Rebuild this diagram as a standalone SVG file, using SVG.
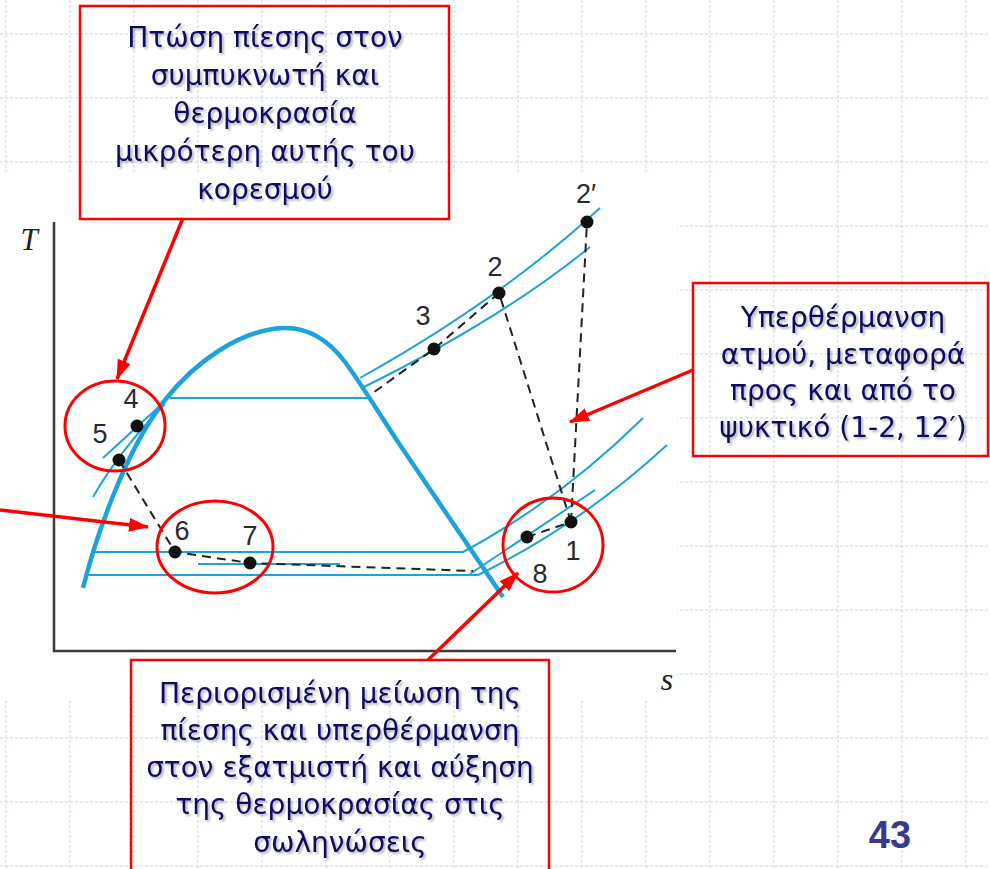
<svg xmlns="http://www.w3.org/2000/svg" width="990" height="869" viewBox="0 0 990 869">
<defs>
<style>
.grid line{stroke:#c5d3f3;stroke-width:1;stroke-dasharray:3 2}
.box{fill:none;stroke:#ff0000;stroke-width:2.5}
.note{font-family:"DejaVu Sans","Liberation Sans",sans-serif;font-size:28px;fill:#0a0a60;text-anchor:middle}
.lbl{font-family:"Liberation Sans",Arial,sans-serif;font-size:27px;fill:#2a2a2a;text-anchor:middle}
.blue{fill:none;stroke:#1da3db;stroke-width:2}
.dome{fill:none;stroke:#1da3db;stroke-width:4.5}
.dash{fill:none;stroke:#222;stroke-width:2;stroke-dasharray:9 6}
.ring{fill:none;stroke:#ff0000;stroke-width:3}
.arrow{fill:none;stroke:#ff0000;stroke-width:3.5}
.pt{fill:#111}
.axis{fill:none;stroke:#3a3a3a;stroke-width:2.5}
</style>
<filter id="sh" x="-5%" y="-20%" width="110%" height="140%">
<feGaussianBlur in="SourceAlpha" stdDeviation="1"/>
<feOffset dx="2" dy="2" result="o"/>
<feComponentTransfer><feFuncA type="linear" slope="0.3"/></feComponentTransfer>
<feMerge><feMergeNode/><feMergeNode in="SourceGraphic"/></feMerge>
</filter>
<marker id="ah" viewBox="0 0 20 14" refX="19" refY="7" markerWidth="20" markerHeight="14" markerUnits="userSpaceOnUse" orient="auto">
<path d="M0,0 L20,7 L0,14 Z" fill="#ff0000"/>
</marker>
</defs>
<rect width="990" height="869" fill="#ffffff"/>
<g class="grid">
<line x1="6" y1="0" x2="6" y2="869"/><line x1="70" y1="0" x2="70" y2="869"/><line x1="134" y1="0" x2="134" y2="869"/><line x1="198" y1="0" x2="198" y2="869"/><line x1="262" y1="0" x2="262" y2="869"/><line x1="326" y1="0" x2="326" y2="869"/><line x1="390" y1="0" x2="390" y2="869"/><line x1="454" y1="0" x2="454" y2="869"/><line x1="518" y1="0" x2="518" y2="869"/><line x1="582" y1="0" x2="582" y2="869"/><line x1="646" y1="0" x2="646" y2="869"/><line x1="710" y1="0" x2="710" y2="869"/><line x1="774" y1="0" x2="774" y2="869"/><line x1="838" y1="0" x2="838" y2="869"/><line x1="902" y1="0" x2="902" y2="869"/><line x1="966" y1="0" x2="966" y2="869"/>
<line x1="0" y1="34" x2="990" y2="34"/><line x1="0" y1="98" x2="990" y2="98"/><line x1="0" y1="162" x2="990" y2="162"/><line x1="0" y1="226" x2="990" y2="226"/><line x1="0" y1="290" x2="990" y2="290"/><line x1="0" y1="354" x2="990" y2="354"/><line x1="0" y1="418" x2="990" y2="418"/><line x1="0" y1="482" x2="990" y2="482"/><line x1="0" y1="546" x2="990" y2="546"/><line x1="0" y1="610" x2="990" y2="610"/><line x1="0" y1="674" x2="990" y2="674"/><line x1="0" y1="738" x2="990" y2="738"/><line x1="0" y1="802" x2="990" y2="802"/><line x1="0" y1="866" x2="990" y2="866"/>
</g>
<rect id="chart-bg" x="0" y="172" width="677" height="529" fill="#ffffff"/>
<g id="axes">
<path class="axis" d="M54,222 L54,651 L676,651"/>
<text x="29" y="250" font-family="Liberation Serif,serif" font-style="italic" font-size="31" fill="#222" text-anchor="middle">T</text>
<text x="667" y="690" font-family="Liberation Serif,serif" font-style="italic" font-size="32" fill="#222" text-anchor="middle">s</text>
</g>
<g id="curves">
<path class="dome" d="M83,588 C95,540 125,450 165,400 C195,362 240,330 283,328 C310,327 330,342 345,362 C360,382 380,415 400,445 L503,597"/>
<path class="blue" d="M170,398 L370,398"/>
<path class="blue" d="M92,552 L463,552 Q560,500 643,418"/>
<path class="blue" d="M85,575 L478,575 Q580,525 667,445"/>
<path class="blue" d="M470,574 L595,490"/>
<path class="blue" d="M198,564 L340,564"/>
<path class="blue" d="M360,378 Q500,300 600,208"/>
<path class="blue" d="M362,388 Q500,320 590,247"/>
<path class="blue" d="M103,458 L163,403"/>
<path class="blue" d="M93,497 Q120,450 165,404"/>
</g>
<g id="connectors">
<path class="dash" d="M119,460 L175,552 L250,563 L473,571"/>
<path class="dash" d="M527,537 L571,522"/>
<path class="dash" d="M571,522 L499,293 L434,349 L370,395"/>
<path class="dash" d="M571,522 L587,222"/>
<path class="arrow" d="M183,218 L117,379" marker-end="url(#ah)"/>
<path class="arrow" d="M0,510 L148,527" marker-end="url(#ah)"/>
<path class="arrow" d="M693,370 L570,422" marker-end="url(#ah)"/>
<path class="arrow" d="M428,660 L518,573" marker-end="url(#ah)"/>
</g>
<g id="rings">
<ellipse class="ring" cx="115" cy="426" rx="50" ry="45"/>
<ellipse class="ring" cx="215" cy="547" rx="58" ry="46"/>
<ellipse class="ring" cx="553" cy="545" rx="50" ry="47"/>
</g>
<g id="points">
<g id="p2p"><circle class="pt" cx="587" cy="222" r="6.5"/><text class="lbl" x="586" y="203">2′</text></g>
<g id="p2"><circle class="pt" cx="499" cy="293" r="6.5"/><text class="lbl" x="495" y="276">2</text></g>
<g id="p3"><circle class="pt" cx="434" cy="349" r="6.5"/><text class="lbl" x="423" y="325">3</text></g>
<g id="p4"><circle class="pt" cx="137" cy="426" r="6.5"/><text class="lbl" x="131" y="408">4</text></g>
<g id="p5"><circle class="pt" cx="119" cy="460" r="6.5"/><text class="lbl" x="100" y="443">5</text></g>
<g id="p6"><circle class="pt" cx="175" cy="552" r="6.5"/><text class="lbl" x="182" y="540">6</text></g>
<g id="p7"><circle class="pt" cx="250" cy="563" r="6.5"/><text class="lbl" x="250" y="545">7</text></g>
<g id="p8"><circle class="pt" cx="527" cy="537" r="6.5"/><text class="lbl" x="540" y="583">8</text></g>
<g id="p1"><circle class="pt" cx="571" cy="522" r="6.5"/><text class="lbl" x="573" y="560">1</text></g>
</g>
<g id="note-top">
<rect class="box" x="80" y="6" width="369" height="213"/>
<g filter="url(#sh)">
<text class="note" x="265" y="47">Πτώση πίεσης στον</text>
<text class="note" x="265" y="85">συμπυκνωτή και</text>
<text class="note" x="265" y="123">θερμοκρασία</text>
<text class="note" x="265" y="161">μικρότερη αυτής του</text>
<text class="note" x="265" y="199">κορεσμού</text>
</g>
</g>
<g id="note-right">
<rect class="box" x="693" y="283" width="295" height="173"/>
<g filter="url(#sh)">
<text class="note" x="843" y="327">Υπερθέρμανση</text>
<text class="note" x="843" y="364">ατμού, μεταφορά</text>
<text class="note" x="843" y="400">προς και από το</text>
<text class="note" x="843" y="437">ψυκτικό (1-2, 12′)</text>
</g>
</g>
<g id="note-bottom">
<rect class="box" x="131" y="660" width="418" height="220"/>
<g filter="url(#sh)">
<text class="note" x="340" y="703">Περιορισμένη μείωση της</text>
<text class="note" x="340" y="740">πίεσης και υπερθέρμανση</text>
<text class="note" x="340" y="777">στον εξατμιστή και αύξηση</text>
<text class="note" x="340" y="814">της θερμοκρασίας στις</text>
<text class="note" x="340" y="852">σωληνώσεις</text>
</g>
</g>
<text id="page" x="890" y="848" font-family="Liberation Sans,Arial,sans-serif" font-weight="bold" font-size="38" fill="#3a3a8c" text-anchor="middle">43</text>
</svg>
